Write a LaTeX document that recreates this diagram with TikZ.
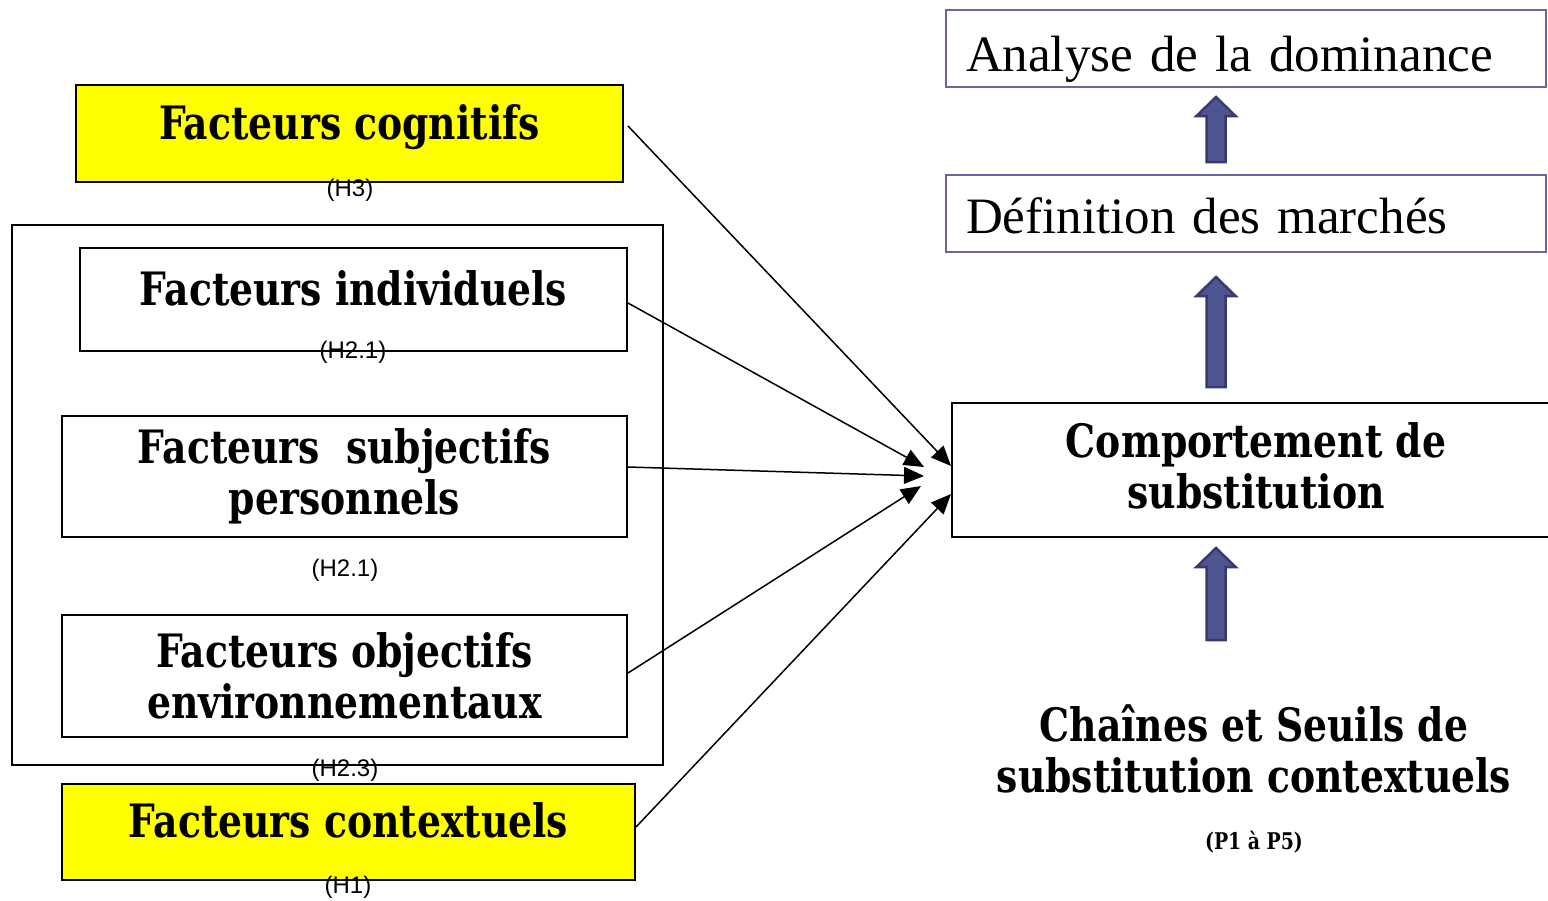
\documentclass[tikz,border=0pt]{standalone}
\usepackage{fontspec}
\usepackage{tikz}
\usetikzlibrary{arrows.meta, positioning}

\newfontfamily\heavyfont[FakeStretch=0.82]{DejaVu Serif}
\newfontfamily\hypfont{Liberation Sans}
\newfontfamily\topfont{Liberation Serif}

\definecolor{boxblue}{RGB}{102,102,160}
\definecolor{arrowfill}{RGB}{80,84,145}
\definecolor{arrowedge}{RGB}{55,58,110}
\definecolor{factyellow}{RGB}{255,255,0}

\begin{document}
\begin{tikzpicture}[x=1pt, y=-1pt,
    factor/.style={draw, line width=2pt, inner sep=0pt, align=center,
        font=\heavyfont\bfseries\fontsize{46}{51}\selectfont},
    oneline/.style={text height=34pt, text depth=23pt},
    hyp/.style={inner sep=0pt, font=\hypfont\fontsize{24}{27}\selectfont},
    topbox/.style={draw=boxblue, line width=2pt, inner xsep=20pt, inner ysep=0pt,
        minimum width=600pt, minimum height=77pt, text width=560pt, align=left,
        text depth=0pt, font=\topfont\fontsize{51}{60}\selectfont},
    link/.style={line width=1.5pt, -{Triangle[length=20pt, width=17pt]}},
    blockarrow/.style={fill=arrowfill, draw=arrowedge, line width=2.5pt}]

    \useasboundingbox (0,0) rectangle (1548,900);

    % left group
    \node[draw, line width=2pt, minimum width=651pt, minimum height=540pt] (grp) at (337.5,495) {};

    \node[factor, oneline, fill=factyellow, minimum width=547pt, minimum height=97pt] (cog) at (349.5,133.5) {Facteurs cognitifs};
    \node[factor, oneline, fill=white, minimum width=547pt, minimum height=103pt] (ind) at (353.5,299.5) {Facteurs individuels};
    \node[factor, fill=white, minimum width=565pt, minimum height=121pt] (subj) at (344.5,476.5) {Facteurs \ subjectifs\\personnels};
    \node[factor, fill=white, minimum width=565pt, minimum height=122pt] (obj) at (344.5,676) {Facteurs objectifs\\environnementaux};
    \node[factor, oneline, fill=factyellow, minimum width=573pt, minimum height=96pt] (ctx) at (348.5,832) {Facteurs contextuels};

    \node[hyp] (h3) at (350,190) {(H3)};
    \node[hyp] (h21a) at (353,352) {(H2.1)};
    \node[hyp] (h21b) at (345,570) {(H2.1)};
    \node[hyp] (h23) at (345,770) {(H2.3)};
    \node[hyp] (h1) at (348,887) {(H1)};

    % right column
    \node[factor, minimum width=608pt, minimum height=134pt, text height=78pt, text depth=2pt] (comp) at (1256,470) {Comportement de\\substitution};
    \node[topbox, text height=39pt] (def) at (1246,213.5) {D\'efinition des march\'es};
    \node[topbox, text height=45pt] (ana) at (1246,48.5) {Analyse de la dominance};

    \node[factor, draw=none] (chain) at (1254,749) {Cha\^ines et Seuils de\\substitution contextuels};
    \node[factor, draw=none, font=\heavyfont\bfseries\fontsize{23}{26}\selectfont] (prop) at (1254,842) {(P1 \`a P5)};

    \foreach \yb/\yt in {162/97, 387/277, 640/548}
        \filldraw[blockarrow] (1206.5,\yb) -- (1206.5,\yt+19) -- (1196.5,\yt+19) -- (1216,\yt)
            -- (1235.5,\yt+19) -- (1225.5,\yt+19) -- (1225.5,\yb) -- cycle;

    \path[link]
    ([xshift=4pt, yshift=7.5pt]cog.east) edge ([yshift=4pt]comp.west)
    ([yshift=-3.5pt]ind.east) edge ([xshift=-27pt, yshift=3pt]comp.west)
    ([yshift=9.5pt]subj.east) edge ([xshift=-27pt, yshift=-6pt]comp.west)
    ([yshift=3pt]obj.east) edge ([xshift=-30pt, yshift=-16pt]comp.west)
    ([yshift=5pt]ctx.east) edge ([yshift=-24pt]comp.west);
\end{tikzpicture}
\end{document}
